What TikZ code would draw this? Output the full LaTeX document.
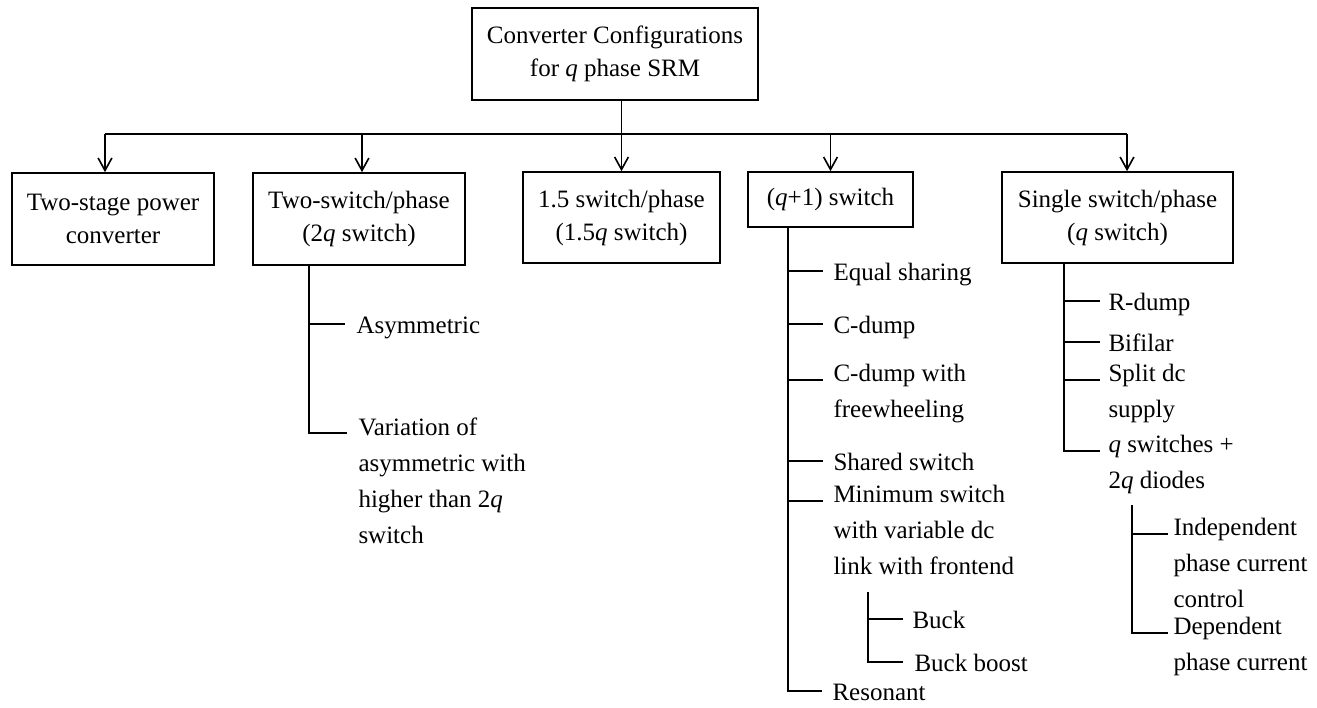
\documentclass[tikz,border=0pt]{standalone}
\usepackage{fontspec}
\setmainfont{Liberation Serif}
\usetikzlibrary{arrows.meta,calc}
\begin{document}
\begin{tikzpicture}[x=0.4pt,y=-0.4pt,
  every node/.style={text=black},
  box/.style={draw, line width=0.65pt, inner sep=0pt, align=center,
    font=\fontsize{10pt}{13.2pt}\selectfont},
  leaf/.style={anchor=north west, inner sep=0pt, align=left,
    font=\fontsize{10pt}{14.4pt}\selectfont, execute at begin node=\strut},
  ln/.style={line width=0.65pt},
  arr/.style={ln, -{Straight Barb[length=5pt,width=5.5pt]}}]
\useasboundingbox (0,0) rectangle (1317,707);

% main boxes
\node[box, minimum width=114.4pt, minimum height=36.8pt] (top) at (615,54)
  {Converter Configurations\\for \textit{q} phase SRM};
\node[box, minimum width=80.8pt, minimum height=36.8pt] (b1) at (113,219)
  {Two-stage power\\converter};
\node[box, minimum width=84.8pt, minimum height=36.8pt] (b2) at (359,219)
  {Two-switch/phase\\(2\textit{q} switch)};
\node[box, minimum width=78.8pt, minimum height=36.4pt] (b3) at (621.5,217.5)
  {1.5 switch/phase\\(1.5\textit{q} switch)};
\node[box, minimum width=66pt, minimum height=22pt] (b4) at (830.5,199.5)
  {(\textit{q}+1) switch};
\node[box, minimum width=92.4pt, minimum height=36.4pt] (b5) at (1117.5,217.5)
  {Single switch/phase\\(\textit{q} switch)};

% bus
\coordinate (busL) at (105,134);
\coordinate (busR) at (1127,134);
\coordinate (bus2) at (362,134);
\draw[ln] (busL) -- (busR);
\draw[arr] (top.south -| b3.north) -- (b3.north);
\draw[arr] (busL) -- (busL |- b1.north);
\draw[arr] (bus2) -- (bus2 |- b2.north);
\draw[arr] (b4.north |- busL) -- (b4.north);
\draw[arr] (busR) -- (busR |- b5.north);

% leaves of b2
\coordinate (t2) at (309,0);
\node[leaf] (a1) at (356,308) {Asymmetric};
\node[leaf] (a2) at (358,417) {Variation of\\asymmetric with\\higher than 2\textit{q}\\switch};
\coordinate (a1t) at ($(a1.north west)+(-11,16)$);
\coordinate (a2t) at ($(a2.north west)+(-11,16)$);
\draw[ln] (b2.south -| t2) |- (a2t);
\draw[ln] (t2 |- a1t) -- (a1t);

% leaves of b4
\coordinate (t4) at (788,0);
\node[leaf] (c1) at (833,255) {Equal sharing};
\node[leaf] (c2) at (833,308) {C-dump};
\node[leaf] (c3) at (833,364) {C-dump with\\freewheeling};
\node[leaf] (c4) at (833,445) {Shared switch};
\node[leaf] (c5) at (833,485) {Minimum switch\\with variable dc\\link with frontend};
\node[leaf] (c6) at (832,675) {Resonant};
\foreach \n in {c1,c2,c3,c4,c5,c6}{
  \coordinate (\n t) at ($(\n.north west)+(-10,16)$);
}
\draw[ln] (b4.south -| t4) |- (c6t);
\foreach \n in {c1,c2,c3,c4,c5}{
  \draw[ln] (t4 |- \n t) -- (\n t);
}
% buck sub-branch
\coordinate (t4s) at (868,0);
\node[leaf] (g1) at (912,603) {Buck};
\node[leaf] (g2) at (914,646) {Buck boost};
\coordinate (g1t) at ($(g1.north west)+(-9,16)$);
\coordinate (g2t) at ($(g2.north west)+(-11,16)$);
\draw[ln] ($(c5.south -| t4s)+(0,6)$) |- (g2t);
\draw[ln] (t4s |- g1t) -- (g1t);

% leaves of b5
\coordinate (t5) at (1064,0);
\node[leaf] (d1) at (1108,285) {R-dump};
\node[leaf] (d2) at (1108,326) {Bifilar};
\node[leaf] (d3) at (1108,364) {Split dc\\supply};
\node[leaf] (d4) at (1108,435) {\textit{q} switches +\\2\textit{q} diodes};
\foreach \n in {d1,d2,d3,d4}{
  \coordinate (\n t) at ($(\n.north west)+(-8,16)$);
}
\draw[ln] (b5.south -| t5) |- (d4t);
\foreach \n in {d1,d2,d3}{
  \draw[ln] (t5 |- \n t) -- (\n t);
}
% sub-branch of d4
\coordinate (t5s) at (1132,0);
\node[leaf] (e1) at (1173,518) {Independent\\phase current\\control};
\node[leaf] (e2) at (1173,617) {Dependent\\phase current};
\coordinate (e1t) at ($(e1.north west)+(-5,16)$);
\coordinate (e2t) at ($(e2.north west)+(-5,16)$);
\draw[ln] ($(d4.south -| t5s)+(0,5)$) |- (e2t);
\draw[ln] (t5s |- e1t) -- (e1t);
\end{tikzpicture}
\end{document}
